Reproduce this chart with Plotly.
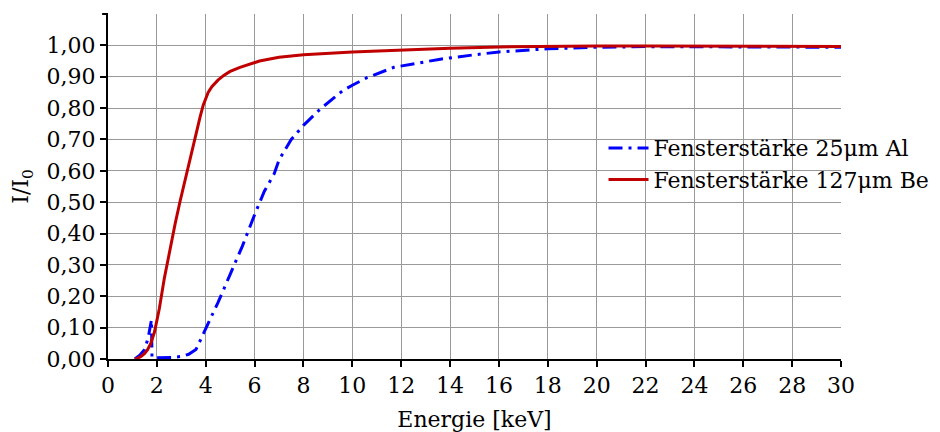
import plotly.graph_objects as go

# Energy (keV) and relative transmission I/I0
energy_al = [1.1, 1.3, 1.5, 1.65, 1.78, 1.80, 1.9, 2.2, 2.6, 3.0, 3.3, 3.6, 4.0, 4.5, 5.0, 5.5, 6.0, 6.4, 6.8,
             7.0, 7.5, 8.0, 8.7, 9.6, 10.0, 10.6, 11.7, 12.8, 13.6, 15.0, 16.0, 18.0, 20.0, 22.0, 25.0, 28.0, 30.0]
trans_al = [0.0, 0.012, 0.03, 0.07, 0.125, 0.005, 0.004, 0.004, 0.005, 0.008, 0.015, 0.03, 0.095, 0.18, 0.27, 0.36,
            0.46, 0.535, 0.59, 0.635, 0.70, 0.745, 0.798, 0.855, 0.873, 0.897, 0.93, 0.946, 0.956, 0.97, 0.979,
            0.989, 0.994, 0.996, 0.995, 0.994, 0.994]

energy_be = [1.1, 1.2, 1.35, 1.5, 1.62, 1.75, 1.9, 2.1, 2.3, 2.54, 2.75, 2.95, 3.15, 3.36, 3.56, 3.77, 3.9,
             4.0, 4.1, 4.25, 4.5, 4.75, 5.0, 5.4, 5.8, 6.2, 7.0, 8.0, 10.0, 12.0, 14.0, 16.0, 18.0, 20.0, 22.0,
             25.0, 28.0, 30.0]
trans_be = [0.0, 0.002, 0.008, 0.018, 0.03, 0.05, 0.085, 0.16, 0.255, 0.355, 0.432, 0.503, 0.57, 0.636, 0.702,
            0.772, 0.81, 0.832, 0.85, 0.868, 0.889, 0.905, 0.917, 0.93, 0.94, 0.95, 0.962, 0.970, 0.979, 0.986,
            0.991, 0.995, 0.997, 0.998, 0.998, 0.997, 0.996, 0.996]

x_ticks = list(range(0, 31, 2))
y_ticks = [i / 10 for i in range(0, 11)]

FONT = "DejaVu Serif"

fig = go.Figure()
fig.add_trace(go.Scatter(x=energy_al, y=trans_al, mode="lines", name="Fensterstärke 25μm Al",
                         line=dict(color="#0000FF", width=3, dash="14px,6px,3px,6px")))
fig.add_trace(go.Scatter(x=energy_be, y=trans_be, mode="lines", name="Fensterstärke 127μm Be",
                         line=dict(color="#C00000", width=3)))

fig.update_layout(
    width=940, height=432,
    margin=dict(l=108, r=99, t=14, b=73, autoexpand=False),
    paper_bgcolor="white", plot_bgcolor="white",
    separators=", ",
    font=dict(family=FONT, size=22, color="black"),
    showlegend=True,
    legend=dict(x=0.676, y=0.565, xanchor="left", yanchor="middle", bgcolor="rgba(0,0,0,0)",
                font=dict(family=FONT, size=22), tracegroupgap=0, itemwidth=40),
    xaxis=dict(range=[0, 30], tickvals=x_ticks, showgrid=True, gridcolor="#999999", gridwidth=1,
               showline=True, linecolor="black", linewidth=2, ticks="outside", ticklen=6, tickwidth=2,
               tickcolor="black", zeroline=False, automargin=False,
               title=dict(text="Energie [keV]", standoff=14, font=dict(family=FONT, size=22))),
    yaxis=dict(range=[0, 1.1], tickvals=y_ticks, tickformat=".2f", showgrid=True, gridcolor="#999999",
               gridwidth=1, showline=True, linecolor="black", linewidth=2, ticks="outside", ticklen=6,
               tickwidth=2, tickcolor="black", zeroline=False, automargin=False,
               title=dict(text="I/I<sub>0</sub>", standoff=12, font=dict(family=FONT, size=22))),
)
fig.add_shape(type="line", xref="paper", yref="paper", x0=-0.008, x1=0, y0=1, y1=1,
              line=dict(color="black", width=2))

fig.write_html("out.html")
